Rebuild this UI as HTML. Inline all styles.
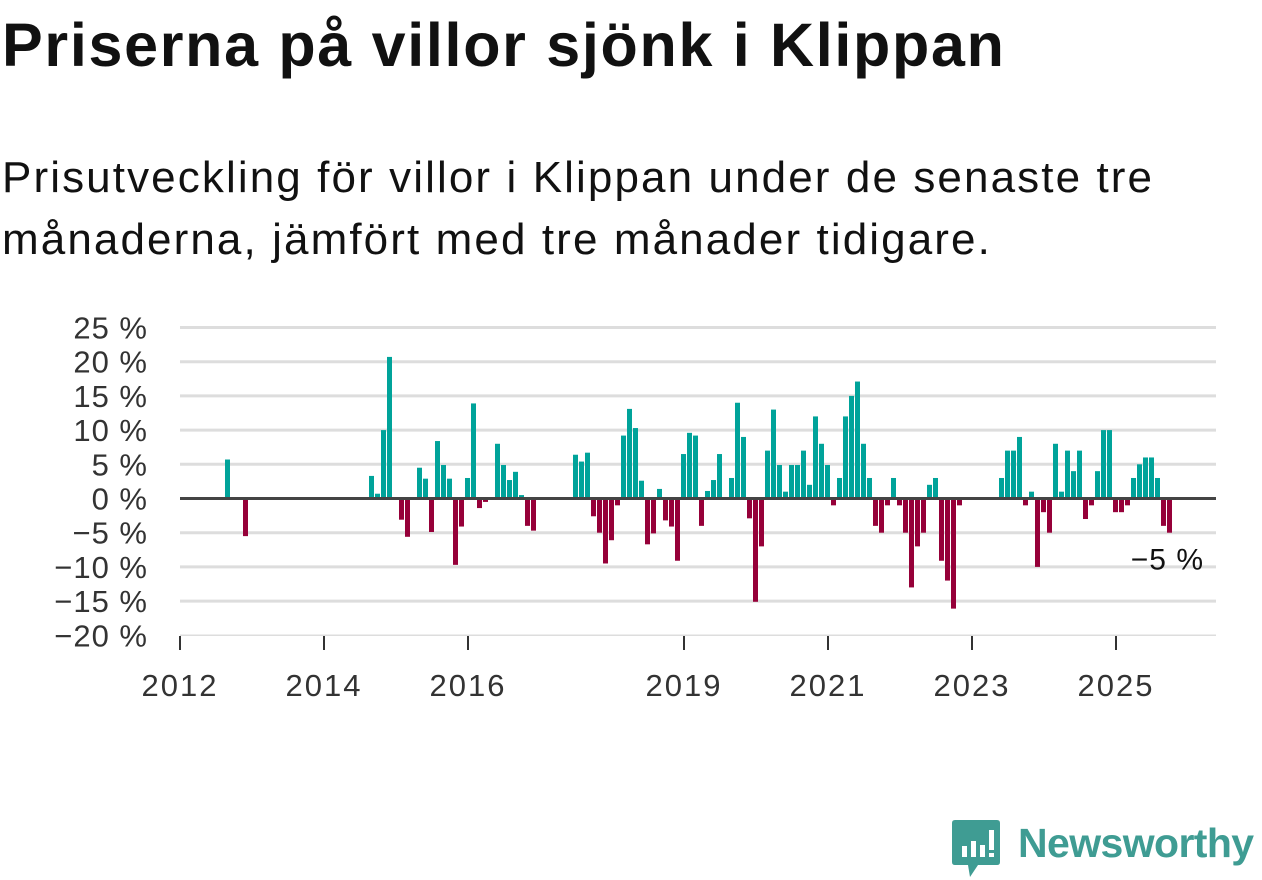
<!DOCTYPE html>
<html><head><meta charset="utf-8">
<style>
body{margin:0;width:1262px;height:879px;background:#fff;overflow:hidden;font-family:"Liberation Sans",sans-serif;color:#111;}
#title{position:absolute;left:2px;top:10px;font-size:61px;font-weight:bold;margin:0;letter-spacing:1.7px;color:#111;line-height:70px;}
#sub{position:absolute;left:2px;top:147px;font-size:44px;line-height:62px;margin:0;width:1260px;color:#111;letter-spacing:2.1px;}
svg{position:absolute;left:0;top:0;}
</style></head><body>
<h1 id="title">Priserna på villor sjönk i Klippan</h1>
<p id="sub">Prisutveckling för villor i Klippan under de senaste tre<br>månaderna, jämfört med tre månader tidigare.</p>
<svg id="chart" width="1262" height="879"></svg>
<div style="position:absolute;left:952px;top:820px;width:310px;height:60px;">
<svg width="50" height="60" style="position:absolute;left:0;top:0">
<path d="M3 0 H45 Q48 0 48 3 V42 Q48 45 45 45 H26 L18 57 L16 45 H3 Q0 45 0 42 V3 Q0 0 3 0Z" fill="#3f9c93"/>
<rect x="10" y="26" width="5" height="11" fill="#fff"/><rect x="19" y="21" width="5" height="16" fill="#fff"/><rect x="28" y="25" width="5" height="12" fill="#fff"/><rect x="37" y="10" width="5" height="20" fill="#fff"/><rect x="37" y="33" width="5" height="4" fill="#fff"/>
</svg>
<span style="position:absolute;left:66px;top:0px;font-size:41px;font-weight:bold;color:#3f9c93;letter-spacing:-0.6px;">Newsworthy</span>
</div>
<script>
const monthIdx=[8,11,32,33,34,35,37,38,40,41,42,43,44,45,46,47,48,49,50,51,53,54,55,56,57,58,59,
66,67,68,69,70,71,72,73,74,75,76,77,78,79,80,81,82,83,84,85,86,87,88,89,90,92,93,94,95,96,97,98,99,100,
101,102,103,104,105,106,107,108,109,110,111,112,113,114,115,116,117,118,119,120,121,122,123,124,125,126,127,128,129,130,
137,138,139,140,141,142,143,144,145,146,147,148,149,150,151,152,153,154,155,156,157,158,159,160,161,162,163,164,165];
const values=[5.7,-5.5,3.3,0.7,10,20.7,-3.1,-5.6,4.5,2.9,-4.9,8.4,4.9,2.9,-9.7,-4.1,3.0,13.9,-1.4,-0.5,8.0,4.9,2.7,3.9,0.5,-4.0,-4.7,
6.4,5.4,6.7,-2.6,-5.0,-9.5,-6.1,-1.0,9.2,13.1,10.3,2.6,-6.7,-5.1,1.4,-3.2,-4.1,-9.1,6.5,9.6,9.2,-4.0,1.1,2.7,6.5,3.0,14.0,9.0,-2.9,-15.1,-7.0,7.0,13.0,4.9,
1.0,4.9,4.9,7.0,2.0,12.0,8.0,4.9,-1.0,3.0,12.0,15.0,17.1,8.0,3.0,-4.0,-5.0,-1.0,3.0,-1.0,-5.0,-13.0,-7.0,-5.0,2.0,3.0,-9.1,-12.0,-16.1,-1.0,
3.0,7.0,7.0,9.0,-1.0,1.0,-10.0,-2.0,-5.0,8.0,1.0,7.0,4.0,7.0,-3.0,-1.0,4.0,10.0,10.0,-2.0,-2.0,-1.0,3.0,5.0,6.0,6.0,3.0,-4.0,-5.0];
const yTicks=[25,20,15,10,5,0,-5,-10,-15,-20];
const xYears=[2012,2014,2016,2019,2021,2023,2025];
const lastLabel="−5 %";
const NS="http://www.w3.org/2000/svg";
const svg=document.getElementById('chart');
const X0=180,X1=1216,PXM=6;
const xs=i=>X0+PXM*i;
const ys=v=>498.5-v*6.84;
function mk(t,a){const e=document.createElementNS(NS,t);for(const k in a)e.setAttribute(k,a[k]);svg.appendChild(e);return e;}
yTicks.forEach(t=>{
  if(t!==0){const g=mk('line',{x1:X0,x2:X1,y1:ys(t),y2:ys(t),stroke:'#dddddd','stroke-width':t===-20?1.5:3});
  
  }
  const l=mk('text',{x:148,y:ys(t)+11,'text-anchor':'end','font-size':31,fill:'#333','letter-spacing':'1'});
  l.textContent=(t<0?'−'+(-t):t)+' %';
  
  
});
xYears.forEach(yr=>{
  const x=X0+(yr-2012)*72;
  const tk=mk('line',{x1:x,x2:x,y1:636,y2:650,stroke:'#333','stroke-width':2});
  
  
  const l=mk('text',{x:x,y:696,'text-anchor':'middle','font-size':31,fill:'#333','letter-spacing':'2'});
  l.textContent=yr;
  
  
});
monthIdx.forEach((m,k)=>{
  const v=values[k];
  const y0=ys(0),y1=ys(v);
  const r=mk('rect',{x:xs(m)-3,y:Math.min(y0,y1),width:5,height:Math.abs(y1-y0),fill:v>=0?'#00a39a':'#960039'});
  
  
});
const z=mk('line',{x1:X0,x2:X1,y1:ys(0),y2:ys(0),stroke:'#444','stroke-width':3});


const lv=values[values.length-1];
const lbl=mk('text',{x:1204,y:ys(lv)+37,'text-anchor':'end','font-size':30,fill:'#111','letter-spacing':'1'});
lbl.textContent=lastLabel;


</script>
</body></html>
